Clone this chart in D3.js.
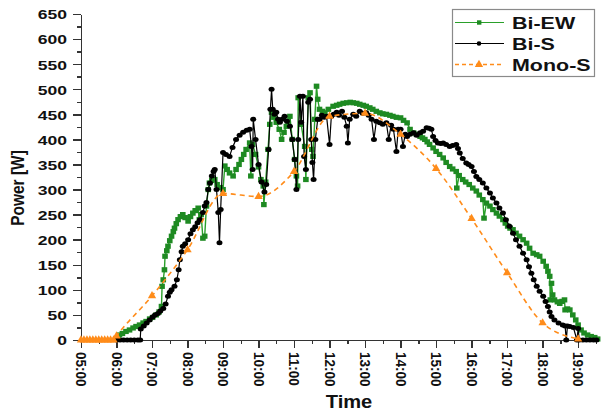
<!DOCTYPE html>
<meta charset="utf-8">
<style>
body { margin: 0; background: #fff; }
text { font-family: "Liberation Sans", Arial, sans-serif; font-weight: bold; fill: #111; }
.axis path, .axis line { stroke: #333; stroke-width: 1.4px; shape-rendering: crispEdges; }
</style>
<body>
<script src="https://d3js.org/d3.v7.min.js"></script>
<script>

// ---- data ----
var biEwTimes = ["06:00","06:05","06:10","06:16","06:22","06:28","06:33","06:39","06:45","06:50","06:56","07:01","07:07","07:12","07:16","07:17","07:19","07:21","07:22","07:25","07:27","07:30","07:33","07:36","07:38","07:41","07:44","07:48","07:52","07:56","08:01","08:05","08:09","08:13","08:18","08:20","08:23","08:26","08:29","08:32","08:35","08:37","08:41","08:46","08:50","08:55","09:00","09:03","09:07","09:11","09:17","09:22","09:27","09:31","09:35","09:39","09:45","09:47","09:50","09:55","10:00","10:04","10:08","10:09","10:12","10:16","10:19","10:22","10:26","10:30","10:35","10:39","10:43","10:47","10:50","10:53","10:57","11:01","11:04","11:06","11:07","11:12","11:18","11:20","11:24","11:27","11:30","11:32","11:35","11:38","11:40","11:43","11:48","11:52","11:58","12:06","12:12","12:17","12:23","12:29","12:35","12:40","12:46","12:51","12:57","13:02","13:08","13:13","13:19","13:25","13:30","13:36","13:42","13:47","13:53","14:00","14:05","14:11","14:16","14:22","14:27","14:33","14:37","14:41","14:45","14:49","14:55","15:00","15:06","15:12","15:17","15:23","15:28","15:34","15:35","15:39","15:45","15:50","15:56","16:02","16:08","16:13","16:19","16:21","16:25","16:31","16:36","16:42","16:47","16:53","16:57","17:01","17:05","17:10","17:15","17:21","17:27","17:33","17:38","17:44","17:50","17:55","18:01","18:06","18:09","18:12","18:13","18:15","18:17","18:20","18:25","18:29","18:33","18:37","18:38","18:42","18:46","18:51","18:56","19:00","19:05","19:10","19:16","19:22","19:28","19:33"];
var biEwValues = [3,10,13,17,20,24,27,30,34,37,42,45,50,56,67,107,120,140,167,178,187,198,207,216,223,232,240,246,250,244,237,246,253,258,263,240,250,203,207,267,300,313,318,320,310,304,300,347,340,333,327,340,350,360,370,380,393,327,390,370,345,320,307,270,315,380,430,454,444,434,420,400,414,426,436,446,400,360,327,307,483,430,386,320,483,493,380,366,440,506,480,460,456,453,460,466,468,470,472,473,474,473,472,470,468,466,463,460,456,453,451,450,448,446,444,443,438,433,420,413,410,406,403,400,395,390,383,376,370,363,354,346,341,336,303,328,320,315,310,303,297,289,280,243,273,267,260,253,247,240,233,227,223,220,213,207,200,193,183,173,170,167,157,147,137,127,80,113,90,80,76,73,77,80,60,62,60,50,40,30,20,14,10,7,5,2];

var biSTimes = ["06:00","06:06","06:12","06:18","06:24","06:30","06:36","06:40","06:41","06:46","06:51","06:56","07:01","07:05","07:10","07:14","07:19","07:23","07:27","07:30","07:33","07:38","07:42","07:45","07:47","07:50","07:52","07:56","08:01","08:05","08:09","08:13","08:17","08:21","08:26","08:29","08:32","08:35","08:38","08:41","08:44","08:46","08:49","08:52","08:54","08:56","09:00","09:05","09:11","09:16","09:22","09:28","09:34","09:40","09:45","09:48","09:50","09:51","09:55","10:00","10:05","10:10","10:13","10:17","10:20","10:22","10:24","10:27","10:30","10:33","10:36","10:40","10:44","10:48","10:53","10:57","11:01","11:04","11:07","11:10","11:12","11:15","11:17","11:20","11:24","11:27","11:29","11:31","11:33","11:36","11:40","11:43","11:47","11:51","11:55","12:00","12:03","12:07","12:12","12:16","12:21","12:25","12:29","12:31","12:34","12:40","12:45","12:51","12:56","13:02","13:06","13:11","13:15","13:19","13:25","13:30","13:36","13:40","13:44","13:48","13:53","13:56","14:00","14:04","14:08","14:11","14:16","14:22","14:27","14:33","14:38","14:44","14:48","14:52","14:55","14:59","15:03","15:08","15:12","15:17","15:23","15:28","15:34","15:37","15:40","15:45","15:51","15:55","16:00","16:04","16:08","16:13","16:19","16:25","16:31","16:36","16:42","16:47","16:53","16:58","17:04","17:10","17:15","17:21","17:27","17:33","17:37","17:41","17:45","17:50","17:55","18:01","18:05","18:09","18:12","18:15","18:20","18:27","18:34","18:38","18:40","18:42","18:46","18:52","18:58","19:00","19:02","19:08","19:14","19:20","19:26","19:31"];
var biSValues = [0,0,0,0,0,0,0,0,22,28,34,40,46,50,53,58,63,72,87,95,100,107,120,140,160,176,187,192,200,212,220,226,234,240,254,267,274,300,313,327,336,340,300,254,194,260,374,370,366,384,400,408,414,418,420,386,340,440,400,350,315,295,310,380,460,500,460,450,454,440,434,440,446,436,426,400,360,300,400,486,434,486,366,340,474,480,400,354,320,400,440,440,448,444,446,390,446,450,454,448,456,444,426,393,440,450,446,456,452,453,448,440,400,436,433,430,433,400,428,420,376,420,420,386,410,406,410,413,408,413,416,423,422,420,406,398,393,392,393,390,386,388,390,382,373,362,353,350,346,336,326,320,313,303,293,283,273,263,253,240,227,213,200,187,173,160,146,133,120,107,97,87,77,67,56,47,40,34,30,28,0,28,27,25,0,23,0,0,0,0,0,0];

var monoTimes = ["05:00","05:05","05:10","05:15","05:20","05:25","05:30","05:35","05:40","05:45","05:50","05:55","06:00","07:00","08:00","09:00","10:00","11:00","12:00","13:00","14:00","15:00","16:00","17:00","18:00","19:00"];
var monoValues = [0,0,0,0,0,0,0,0,0,0,0,0,8,88,180,292,286,336,446,452,410,342,242,134,34,2];

var hourTicks = [5,6,7,8,9,10,11,12,13,14,15,16,17,18,19];
var yTicks = [0,50,100,150,200,250,300,350,400,450,500,550,600,650];
var seriesNames = ["Bi-EW", "Bi-S", "Mono-S"];

// ---- layout ----
var W = 610, H = 414;
var x0 = 81, x1 = 598, yTop = 14, yBot = 340;
var stretch = 1.3;   // text in the picture is widened

function toHours(s) { var p = s.split(":"); return +p[0] + (+p[1]) / 60; }
function pad(h) { return (h < 10 ? "0" : "") + h + ":00"; }

var x = d3.scaleLinear().domain([5, 19.56]).range([x0, x1]);
var y = d3.scaleLinear().domain([0, 650]).range([yBot, yTop]);

var svg = d3.select("body").append("svg")
    .attr("width", W).attr("height", H);

function zip(times, vals) {
  return times.map(function(t, i) { return { t: toHours(t), v: vals[i] }; });
}
var biEw = zip(biEwTimes, biEwValues),
    biS = zip(biSTimes, biSValues),
    mono = zip(monoTimes, monoValues);

var green = "#2aa02a", greenDot = "#1e8a22", orange = "#ff8c1a";

// minor ticks first (half hours, 25 W)
svg.append("g").attr("class", "axis")
    .attr("transform", "translate(0," + yBot + ")")
    .call(d3.axisBottom(x).tickValues(d3.range(5.5, 19.6, 1)).tickSize(4).tickFormat(""))
    .select(".domain").remove();
svg.append("g").attr("class", "axis")
    .attr("transform", "translate(" + x0 + ",0)")
    .call(d3.axisLeft(y).tickValues(d3.range(25, 650, 50)).tickSize(4).tickFormat(""))
    .select(".domain").remove();

// x axis
var gx = svg.append("g").attr("class", "axis")
    .attr("transform", "translate(0," + yBot + ")")
    .call(d3.axisBottom(x).tickValues(hourTicks).tickSize(8).tickSizeOuter(0)
      .tickFormat(function(d) { return pad(d); }));
gx.selectAll("text")
    .attr("x", 0).attr("y", 0).attr("dy", null)
    .attr("text-anchor", "start")
    .attr("dominant-baseline", "central")
    .style("font-size", "13.5px")
    .attr("transform", "translate(0,12) scale(1.15,1) rotate(90)");

// y axis
var gy = svg.append("g").attr("class", "axis")
    .attr("transform", "translate(" + x0 + ",0)")
    .call(d3.axisLeft(y).tickValues(yTicks).tickSize(8).tickSizeOuter(0));
gy.selectAll("text")
    .attr("x", -14 / stretch).attr("dy", "0.36em")
    .style("font-size", "13.5px")
    .attr("transform", "scale(" + stretch + ",1)");

// titles
svg.append("text")
    .attr("transform", "translate(349,408) scale(1.15,1)")
    .attr("text-anchor", "middle")
    .style("font-size", "17.5px")
    .text("Time");
svg.append("text")
    .attr("transform", "translate(24,188) scale(1.2,1) rotate(-90)")
    .attr("text-anchor", "middle")
    .style("font-size", "15.5px")
    .text("Power [W]");

// lines
var line = d3.line().x(function(d) { return x(d.t); }).y(function(d) { return y(d.v); });

svg.append("path").datum(biEw)
    .attr("fill", "none").attr("stroke", green).attr("stroke-width", 1.4)
    .attr("d", line);
svg.append("g").selectAll("rect").data(biEw).enter().append("rect")
    .attr("x", function(d) { return x(d.t) - 2.8; })
    .attr("y", function(d) { return y(d.v) - 2.6; })
    .attr("width", 5.6).attr("height", 5.2)
    .attr("fill", greenDot);

svg.append("path").datum(biS)
    .attr("fill", "none").attr("stroke", "#000").attr("stroke-width", 1.2)
    .attr("d", line);
svg.append("g").selectAll("ellipse").data(biS).enter().append("ellipse")
    .attr("cx", function(d) { return x(d.t); })
    .attr("cy", function(d) { return y(d.v); })
    .attr("rx", 3).attr("ry", 2.5)
    .attr("fill", "#000");

svg.append("path").datum(mono)
    .attr("fill", "none").attr("stroke", orange).attr("stroke-width", 1.6)
    .attr("stroke-dasharray", "5,4")
    .attr("d", line.curve(d3.curveMonotoneX));
var tri = d3.symbol().type(d3.symbolTriangle).size(30);
svg.append("g").selectAll("path").data(mono).enter().append("path")
    .attr("transform", function(d) { return "translate(" + x(d.t) + "," + y(d.v) + ")"; })
    .attr("d", tri)
    .attr("fill", orange);

// legend
var lg = svg.append("g");
lg.append("rect")
    .attr("x", 452.5).attr("y", 9.5).attr("width", 142).attr("height", 67)
    .attr("fill", "#fff").attr("stroke", "#8a8a8a").attr("stroke-width", 1.2);
var legendRows = [
  { name: seriesNames[0], color: green, dot: greenDot, dash: null, shape: "square" },
  { name: seriesNames[1], color: "#000", dot: "#000", dash: null, shape: "circle" },
  { name: seriesNames[2], color: orange, dot: orange, dash: "4,3", shape: "tri" }
];
legendRows.forEach(function(r, i) {
  var ly = 22.5 + i * 21;
  lg.append("line")
      .attr("x1", 455).attr("x2", 504).attr("y1", ly).attr("y2", ly)
      .attr("stroke", r.color).attr("stroke-width", r.dash ? 1.3 : 1.2)
      .attr("stroke-dasharray", r.dash);
  if (r.shape == "square") {
    lg.append("rect").attr("x", 477).attr("y", ly - 2.2).attr("width", 4.4).attr("height", 4.4).attr("fill", r.dot);
  } else if (r.shape == "circle") {
    lg.append("circle").attr("cx", 479).attr("cy", ly).attr("r", 2.3).attr("fill", r.dot);
  } else {
    lg.append("path").attr("transform", "translate(479," + ly + ")").attr("d", tri).attr("fill", r.dot);
  }
  lg.append("text")
      .attr("transform", "translate(512," + (ly + 6) + ") scale(" + stretch + ",1)")
      .style("font-size", "16.5px")
      .text(r.name);
});

</script>
</body>
